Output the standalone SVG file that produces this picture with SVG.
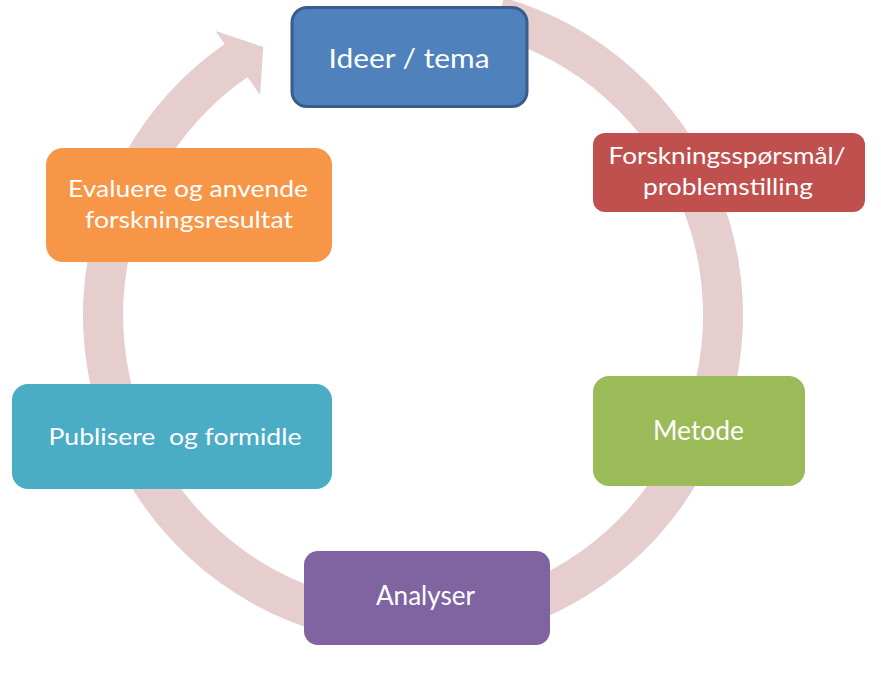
<svg xmlns="http://www.w3.org/2000/svg" width="881" height="682" viewBox="0 0 881 682">
<style>
  .lbl { font-family: Lato, "Open Sans", "Liberation Sans", sans-serif; fill: #ffffff; text-anchor: middle; }
  .big { font-size: 26px; }
  .small { font-size: 24px; }
  .ring { fill: #E6CDCE; }
</style>
<rect width="881" height="682" fill="#ffffff"/>
<g id="connectors">
  <path class="ring" d="M 503.96 -2.2 A 330 330 0 1 1 224.7 44.0 L 215.5 30.9 L 263.2 47.0 L 260.1 94.9 L 247.5 76.9 A 290 290 0 1 0 492.9 36.2 Z"/>
</g>
<g id="ideer">
  <rect x="292" y="7.5" width="235" height="99" rx="15" fill="#4F81BD" stroke="#385D8A" stroke-width="3"/>
  <text class="lbl" style="font-size:27.5px" x="409" y="68" textLength="161" lengthAdjust="spacingAndGlyphs">Ideer / tema</text>
</g>
<g id="forskning">
  <rect x="593" y="133" width="272" height="79" rx="12" fill="#C0504D"/>
  <text class="lbl small" x="727" y="164" textLength="237" lengthAdjust="spacingAndGlyphs">Forskningsspørsmål/</text>
  <text class="lbl small" x="728" y="195" textLength="170" lengthAdjust="spacingAndGlyphs">problemstilling</text>
</g>
<g id="metode">
  <rect x="593" y="376" width="212" height="110" rx="16" fill="#9BBB59"/>
  <text class="lbl big" x="698.5" y="440" textLength="91" lengthAdjust="spacingAndGlyphs">Metode</text>
</g>
<g id="analyser">
  <rect x="304" y="551" width="246" height="94" rx="14" fill="#8064A2"/>
  <text class="lbl big" x="425.5" y="605" textLength="99" lengthAdjust="spacingAndGlyphs">Analyser</text>
</g>
<g id="publisere">
  <rect x="12" y="384" width="320" height="105" rx="16" fill="#4BACC6"/>
  <text class="lbl small" x="175" y="445" textLength="253" lengthAdjust="spacingAndGlyphs" xml:space="preserve">Publisere  og formidle</text>
</g>
<g id="evaluere">
  <rect x="46" y="148" width="286" height="114" rx="17" fill="#F79646"/>
  <text class="lbl small" x="188" y="197" textLength="240" lengthAdjust="spacingAndGlyphs">Evaluere og anvende</text>
  <text class="lbl small" x="189" y="228" textLength="208" lengthAdjust="spacingAndGlyphs">forskningsresultat</text>
</g>
</svg>
